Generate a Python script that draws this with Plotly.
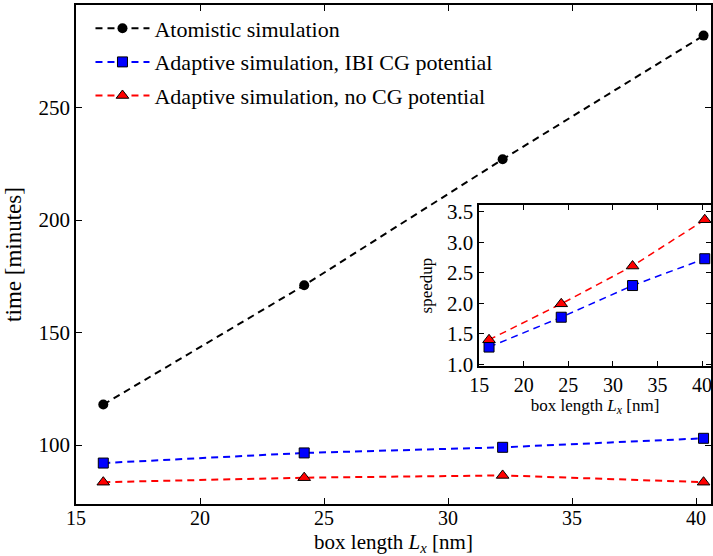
import plotly.graph_objects as go

# Data
box_length = [16.1, 24.2, 32.2, 40.3]
atomistic = [118, 171, 227, 282]
adaptive_ibi = [92, 96.5, 99, 103]
adaptive_nocg = [83.5, 85.5, 86.5, 83.5]
speedup_ibi = [1.28, 1.77, 2.29, 2.73]
speedup_nocg = [1.40, 1.99, 2.61, 3.37]

FONT = "Liberation Serif"
DASH = "7px,5px"


def f(size):
    return dict(family=FONT, size=size, color="black")


fig = go.Figure()
fig.add_trace(go.Scatter(x=box_length, y=atomistic, mode="lines+markers",
                         name="Atomistic simulation", legendgroup="a",
                         line=dict(color="black", dash=DASH, width=2),
                         marker=dict(symbol="circle", size=10, color="black")))
fig.add_trace(go.Scatter(x=box_length, y=adaptive_ibi, mode="lines+markers",
                         name="Adaptive simulation, IBI CG potential", legendgroup="b",
                         line=dict(color="blue", dash=DASH, width=2),
                         marker=dict(symbol="square", size=10, color="blue",
                                     line=dict(color="black", width=1))))
fig.add_trace(go.Scatter(x=box_length, y=adaptive_nocg, mode="lines+markers",
                         name="Adaptive simulation, no CG potential", legendgroup="c",
                         line=dict(color="red", dash=DASH, width=2),
                         marker=dict(symbol="triangle-up", size=11, color="red",
                                     line=dict(color="black", width=1))))
# inset
fig.add_trace(go.Scatter(x=box_length, y=speedup_ibi, mode="lines+markers",
                         showlegend=False, xaxis="x2", yaxis="y2",
                         line=dict(color="blue", dash=DASH, width=1.5),
                         marker=dict(symbol="square", size=10, color="blue",
                                     line=dict(color="black", width=1))))
fig.add_trace(go.Scatter(x=box_length, y=speedup_nocg, mode="lines+markers",
                         showlegend=False, xaxis="x2", yaxis="y2",
                         line=dict(color="red", dash=DASH, width=1.5),
                         marker=dict(symbol="triangle-up", size=11, color="red",
                                     line=dict(color="black", width=1))))

axis_common = dict(showline=True, linecolor="black", linewidth=1.5, mirror="allticks",
                   ticks="inside", tickcolor="black", tickwidth=1, showgrid=False,
                   zeroline=False)

fig.update_layout(
    width=713, height=556,
    margin=dict(l=76, r=0, t=5, b=52),
    paper_bgcolor="white", plot_bgcolor="white",
    font=f(21),
    xaxis=dict(range=[15, 40.6], tickvals=[15, 20, 25, 30, 35, 40], ticklen=6,
               tickfont=f(20), ticklabelstandoff=-5,
               title=dict(text="box length <i>L</i><sub><i>x</i></sub> [nm]",
                          font=f(21), standoff=8),
               **axis_common),
    yaxis=dict(range=[73.8, 295.6], tickvals=[100, 150, 200, 250], ticklen=6,
               tickfont=f(21),
               title=dict(text="time [minutes]", font=f(23), standoff=10),
               **axis_common),
    xaxis2=dict(domain=[0.635, 1.0], anchor="y2", range=[15, 41.0],
                tickvals=[15, 20, 25, 30, 35, 40], ticklen=5,
                tickfont=f(20),
                title=dict(text="box length <i>L</i><sub><i>x</i></sub> [nm]",
                           font=f(17), standoff=0),
                **axis_common),
    yaxis2=dict(domain=[0.2766, 0.599], anchor="x2", range=[0.97, 3.61],
                tickvals=[1.0, 1.5, 2.0, 2.5, 3.0, 3.5], tickformat=".1f", ticklen=5,
                tickfont=f(21),
                title=dict(text="speedup", font=f(17), standoff=10),
                **axis_common),
    legend=dict(x=0.0228, y=0.995, xanchor="left", yanchor="top",
                bgcolor="rgba(255,255,255,0)", font=f(22),
                traceorder="grouped", tracegroupgap=2, itemwidth=54),
)

fig.write_html("out.html")
